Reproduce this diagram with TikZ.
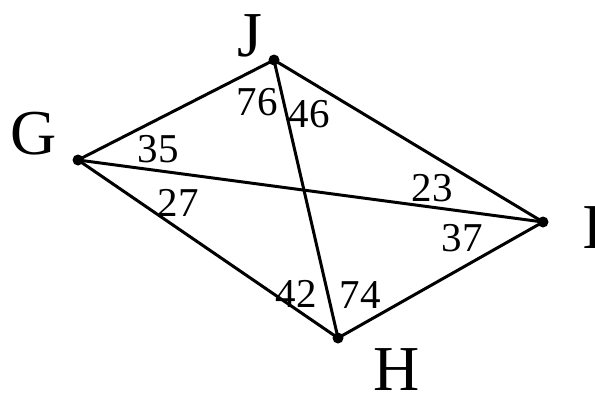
\documentclass[tikz,border=0pt]{standalone}
\usepackage{fontspec}
\setmainfont{Liberation Serif}
\usepackage{tikz}
\usetikzlibrary{
  arrows.meta,
  positioning
}
\tikzset{
  vertexdot/.style={
    circle,
    fill=black,
    inner sep=0pt,
    minimum size=11pt
  },
  vertexlabel/.style={font=\fontsize{64}{64}\selectfont,inner sep=0pt},
  anglelabel/.style={font=\fontsize{41}{41}\selectfont,inner sep=0pt},
  sideline/.style={line width=3pt,draw=black,shorten <=-1pt,shorten >=-1pt}
}
\begin{document}
\begin{tikzpicture}[x=1pt,y=-1pt]
  \useasboundingbox (0,0) rectangle (595,399);
  \node[vertexdot] (G) at (78,160) {};
  \node[vertexdot] (J) at (274,60) {};
  \node[vertexdot] (I) at (543,222) {};
  \node[vertexdot] (H) at (338,338) {};

  \node[vertexlabel] (labG) at (34,134) {G};
  \node[vertexlabel] (labJ) at (250,36) {J};
  \node[vertexlabel] (labI) at (593,228) {I};
  \node[vertexlabel] (labH) at (397,370) {H};

  \draw[sideline] (G) -- (J);
  \draw[sideline] (J) -- (I);
  \draw[sideline] (I) -- (H);
  \draw[sideline] (H) -- (G);
  \draw[sideline] (G) -- (I);
  \draw[sideline] (J) -- (H);

  \node[anglelabel] (angGJ) at (158,149) {35};
  \node[anglelabel] (angGH) at (178,203) {27};
  \node[anglelabel] (angJG) at (257,102) {76};
  \node[anglelabel] (angJI) at (309,114) {46};
  \node[anglelabel] (angIJ) at (432,188) {23};
  \node[anglelabel] (angIH) at (462,238) {37};
  \node[anglelabel] (angHG) at (296,294) {42};
  \node[anglelabel] (angHI) at (360,295) {74};
\end{tikzpicture}
\end{document}
